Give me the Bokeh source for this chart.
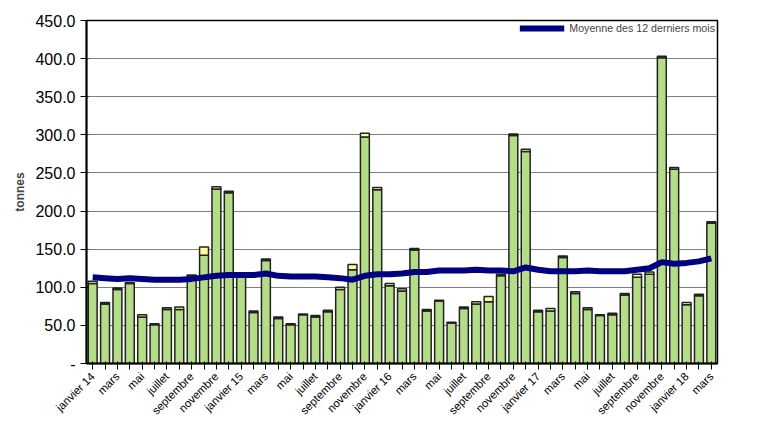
from bokeh.embed import file_html
from bokeh.resources import INLINE
from bokeh.plotting import figure
from bokeh.models import ColumnDataSource, Legend, LegendItem, FixedTicker, Range1d

months = ["janvier 14", "février", "mars", "avril", "mai", "juin", "juillet", "août", "septembre", "octobre", "novembre", "décembre",
          "janvier 15", "février", "mars", "avril", "mai", "juin", "juillet", "août", "septembre", "octobre", "novembre", "décembre",
          "janvier 16", "février", "mars", "avril", "mai", "juin", "juillet", "août", "septembre", "octobre", "novembre", "décembre",
          "janvier 17", "février", "mars", "avril", "mai", "juin", "juillet", "août", "septembre", "octobre", "novembre", "décembre",
          "janvier 18", "février", "mars"]
total = [108, 80, 99, 106, 64, 52, 73, 74, 116, 153, 232, 226,
         115, 69, 137, 61, 52, 65, 63, 70, 100, 130, 302, 231,
         105, 98, 151, 71, 83, 54, 74, 81, 88, 117, 301, 281,
         70, 72, 141, 94, 73, 64, 66, 92, 117, 120, 403, 257,
         80, 91, 186]
yellow = [3, 2, 2, 1, 3, 1, 2, 3, 1, 11, 3, 2,
          1, 2, 2, 2, 1, 1, 2, 2, 3, 7, 5, 3,
          3, 3, 2, 2, 1, 1, 2, 3, 7, 2, 2, 3,
          2, 3, 2, 2, 2, 1, 2, 2, 4, 3, 2, 2,
          3, 2, 2]
moving_avg = [113, 112, 111, 112, 111, 110, 110, 110, 111, 113, 115, 116,
              116, 116, 118, 115, 114, 114, 114, 113, 112, 110, 115, 117,
              117, 118, 120, 120, 122, 122, 122, 123, 122, 122, 121, 126,
              123, 121, 121, 121, 122, 121, 121, 121, 123, 125, 133, 131,
              132, 134, 138]

x = list(range(1, len(months) + 1))
green = [t - y for t, y in zip(total, yellow)]
src = ColumnDataSource(dict(x=x, green=green, total=total, avg=moving_avg))

p = figure(width=755, height=428, output_backend="svg", toolbar_location=None,
           x_range=Range1d(0.5, len(x) + 0.5), y_range=Range1d(0, 450),
           min_border_right=38, min_border_top=20, min_border_left=86, min_border_bottom=65)
p.background_fill_color = "white"
p.outline_line_color = "black"
p.outline_line_width = 1.5

p.vbar(x="x", top="green", bottom=0, width=0.72, source=src,
       fill_color="#B3DE85", line_color="#222222", line_width=1.5)
p.vbar(x="x", top="total", bottom="green", width=0.72, source=src,
       fill_color="#FFFF99", line_color="#222222", line_width=1.5)
r = p.line("x", "avg", source=src, line_color="#000080", line_width=6)

p.yaxis.ticker = FixedTicker(ticks=list(range(0, 451, 50)))
p.yaxis.major_label_overrides = {0: "-", **{v: f"{v:.1f}" for v in range(50, 451, 50)}}
p.yaxis.major_label_text_font = "Liberation Sans"
p.yaxis.major_label_text_font_size = "12pt"
p.yaxis.major_label_text_color = "black"
p.yaxis.axis_label = "tonnes"
p.yaxis.axis_label_text_font = "Liberation Sans"
p.yaxis.axis_label_text_font_style = "bold"
p.yaxis.axis_label_text_font_size = "9pt"
p.yaxis.axis_line_width = 2
p.yaxis.minor_tick_line_color = None

p.xaxis.ticker = FixedTicker(ticks=x)
p.xaxis.major_label_overrides = {i: (months[i - 1] if i % 2 == 1 else "") for i in x}
p.xaxis.major_label_orientation = 0.785
p.xaxis.major_label_text_font = "Liberation Sans"
p.xaxis.major_label_text_font_size = "8.5pt"
p.xaxis.major_label_text_color = "black"
p.xaxis.axis_line_width = 2

p.xgrid.grid_line_color = None
p.ygrid.grid_line_color = "#808080"
p.ygrid.grid_line_width = 1

legend = Legend(items=[LegendItem(label="Moyenne des 12 derniers mois", renderers=[r])],
                location="top_right", orientation="horizontal", border_line_color=None,
                background_fill_color="white", background_fill_alpha=1,
                label_text_font="Liberation Sans", label_text_font_size="8pt",
                glyph_width=45, margin=2, padding=1, label_height=10, glyph_height=10)
p.add_layout(legend)

open("out.html", "w").write(file_html(p, INLINE))
